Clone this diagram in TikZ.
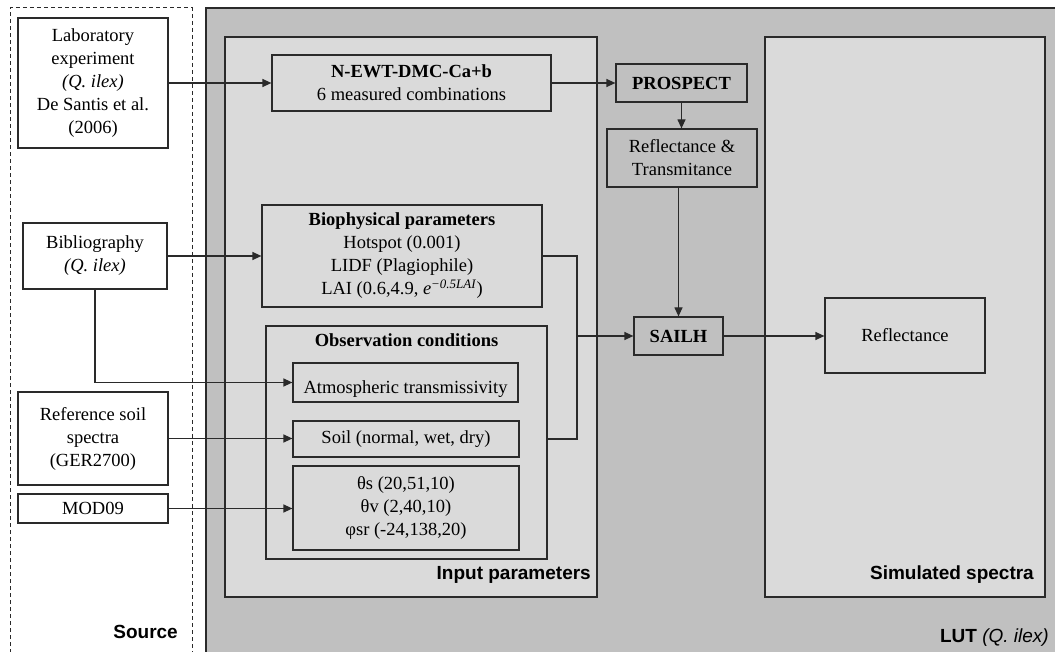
\documentclass[tikz,border=0pt]{standalone}
\usepackage{fontspec}
\setmainfont{Liberation Serif}
\setsansfont{Liberation Sans}
\usetikzlibrary{arrows.meta}
\definecolor{lightfill}{HTML}{DADADA}
\definecolor{darkfill}{HTML}{C0C0C0}
\definecolor{linec}{HTML}{2A2A2A}
\begin{document}
\begin{tikzpicture}[x=1pt,y=-1pt,
  box/.style={draw=linec, line width=1.2pt, inner sep=0pt, align=center,
    font=\fontsize{18.5}{23}\selectfont, text=black},
  whitebox/.style={box, fill=white},
  lightbox/.style={box, fill=lightfill},
  darkbox/.style={box, fill=darkfill},
  arr/.style={draw=linec, line width=1.2pt, -{Triangle[length=9pt,width=8pt]}},
  conn/.style={draw=linec, line width=1.2pt},
  lbl/.style={font=\sffamily\bfseries\fontsize{19}{22}\selectfont, inner sep=0pt, anchor=east}
]
\useasboundingbox (0,0) rectangle (1055,652);
% containers
\draw[linec, line width=1pt, dash pattern=on 4pt off 3pt] (10,660) -- (10,8) -- (192,8) -- (192,660);
\filldraw[fill=darkfill, draw=linec, line width=1.2pt] (206,660) rectangle (1062,8);
\filldraw[fill=lightfill, draw=linec, line width=1.2pt] (225,37) rectangle (597,597);
\filldraw[fill=lightfill, draw=linec, line width=1.2pt] (765,37) rectangle (1045,597);
% labels
\node[lbl] (srclbl) at (178,632) {Source};
\node[lbl] (lutlbl) at (1049,638) {LUT \mdseries\itshape(Q. ilex)};
\node[lbl] (inplbl) at (591,575) {Input parameters};
\node[lbl] (simlbl) at (1034,575) {Simulated spectra};
% source boxes
\node[whitebox, minimum width=150, minimum height=130] (lab) at (93,83)
  {Laboratory\\experiment\\\textit{(Q. ilex)}\\De Santis et al.\\(2006)};
\node[whitebox, minimum width=144, minimum height=66] (bib) at (95,256)
  {Bibliography\\\textit{(Q. ilex)}};
\node[whitebox, minimum width=150, minimum height=93] (ref) at (93,438.5)
  {Reference soil\\spectra\\(GER2700)};
\node[whitebox, minimum width=150, minimum height=29] (mod) at (93,508.5) {MOD09};
% input parameter boxes
\node[lightbox, minimum width=279, minimum height=56] (newt) at (411.5,83)
  {\textbf{N-EWT-DMC-Ca+b}\\6 measured combinations};
\node[lightbox, minimum width=280, minimum height=102] (bio) at (402,256)
  {\textbf{Biophysical parameters}\\Hotspot (0.001)\\LIDF (Plagiophile)\\LAI (0.6,4.9, \textit{e}\textsuperscript{\textit{−0.5LAI}})};
\node[lightbox, minimum width=281, minimum height=233] (obs) at (406.5,442.5) {};
\node[anchor=north, font=\fontsize{18.5}{23}\selectfont\bfseries, inner sep=0pt] (obsttl) at (406.5,333) {Observation conditions};
\node[lightbox, minimum width=225, minimum height=39] (atm) at (405.5,382.5) {};
\node[anchor=south, font=\fontsize{18.5}{23}\selectfont, inner sep=0pt] (atmtxt) at (405.5,398) {Atmospheric transmissivity};
\node[lightbox, minimum width=226, minimum height=36] (soil) at (406,439) {Soil (normal, wet, dry)};
\node[lightbox, minimum width=226, minimum height=84] (ang) at (406,508)
  {θs (20,51,10)\\θv (2,40,10)\\φsr (-24,138,20)};
% LUT middle column
\node[darkbox, minimum width=131, minimum height=38] (pro) at (681.5,83) {\textbf{PROSPECT}};
\node[darkbox, minimum width=150, minimum height=58] (rt) at (682,158) {Reflectance \&\\Transmitance};
\node[darkbox, minimum width=89, minimum height=38] (sail) at (678.5,336) {\textbf{SAILH}};
\node[lightbox, minimum width=160, minimum height=75] (refl) at (905,335.5) {Reflectance};
\coordinate (j) at (577,336);
% connectors
\draw[arr] (lab.east) -- (newt.west);
\draw[arr] (newt.east) -- (pro.west);
\draw[arr] (pro.south) -- (pro.south |- rt.north);
\draw[arr] (sail.north |- rt.south) -- (sail.north);
\draw[arr] (bio.east) -| (j) -- (sail.west);
\draw[conn] (obs.east |- soil.east) -| (j);
\draw[arr] (sail.east) -- (sail.east -| refl.west);
\draw[arr] (bib.east) -- (bio.west);
\draw[arr] (bib.south) |- (atm.west);
\draw[arr] (ref.east) -- (ref.east -| soil.west);
\draw[arr] (mod.east) -- (mod.east -| ang.west);
\end{tikzpicture}
\end{document}
